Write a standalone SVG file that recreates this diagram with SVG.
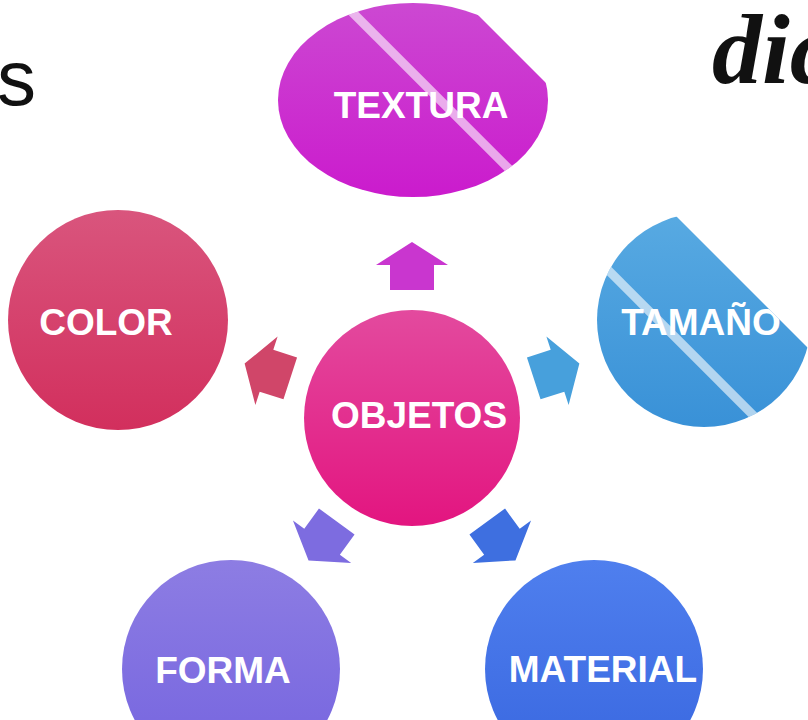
<svg xmlns="http://www.w3.org/2000/svg" width="808" height="720" viewBox="0 0 808 720">
<defs>
<linearGradient id="gObj" x1="0" y1="0" x2="0" y2="1"><stop offset="0" stop-color="#e34a9e"/><stop offset="1" stop-color="#e31580"/></linearGradient>
<linearGradient id="gTex" x1="0" y1="0" x2="0" y2="1"><stop offset="0" stop-color="#cc48d2"/><stop offset="1" stop-color="#cb1bcd"/></linearGradient>
<linearGradient id="gCol" x1="0" y1="0" x2="0" y2="1"><stop offset="0" stop-color="#d9557d"/><stop offset="1" stop-color="#d22f5d"/></linearGradient>
<linearGradient id="gTam" x1="0" y1="0" x2="0" y2="1"><stop offset="0" stop-color="#58aae2"/><stop offset="1" stop-color="#3991d7"/></linearGradient>
<linearGradient id="gFor" x1="0" y1="0" x2="0" y2="1"><stop offset="0" stop-color="#8d7de3"/><stop offset="1" stop-color="#7463df"/></linearGradient>
<linearGradient id="gMat" x1="0" y1="0" x2="0" y2="1"><stop offset="0" stop-color="#4f7fee"/><stop offset="1" stop-color="#3866df"/></linearGradient>
<clipPath id="cutTex"><polygon points="-100,-100 363,-100 1100,637 -100,637"/></clipPath>
<clipPath id="ellTex"><ellipse cx="413" cy="100" rx="135" ry="97"/></clipPath>
<clipPath id="cutTam"><polygon points="-100,-100 360,-100 1100,640 -100,640"/></clipPath>
<clipPath id="cirTam"><circle cx="704" cy="320" r="107"/></clipPath>
<path id="arr" d="M0,-24 L36,-1 L22,-1 L22,24 L-22,24 L-22,-1 L-36,-1 Z"/>
</defs>
<style>
.lbl{font-family:"Liberation Sans",Arial,sans-serif;font-weight:bold;font-size:37px;fill:#ffffff;text-anchor:middle}
.stripe{stroke:#ffffff;stroke-opacity:0.6;stroke-width:9}
</style>
<rect x="0" y="0" width="808" height="720" fill="#ffffff"/>
<text x="-3" y="105" font-family="Liberation Sans, Arial, sans-serif" font-size="78" fill="#111111">s</text>
<text x="712" y="83" font-family="Liberation Serif, Times New Roman, serif" font-style="italic" font-weight="bold" font-size="100" fill="#111111">dic</text>

<g id="connectors">
<use href="#arr" transform="translate(412,266)" fill="#c936cf"/>
<use href="#arr" transform="rotate(72 412 418) translate(412,266)" fill="#47a0dc"/>
<use href="#arr" transform="rotate(144 412 418) translate(412,266)" fill="#3e6fe0"/>
<use href="#arr" transform="rotate(216 412 418) translate(412,266)" fill="#7d6ce0"/>
<use href="#arr" transform="rotate(288 412 418) translate(412,266)" fill="#d04669"/>
</g>

<g id="textura">
<g clip-path="url(#cutTex)">
<ellipse cx="413" cy="100" rx="135" ry="97" fill="url(#gTex)"/>
<text class="lbl" x="421" y="118">TEXTURA</text>
<line class="stripe" x1="300" y1="-40" x2="600" y2="260" clip-path="url(#ellTex)"/>
</g>
</g>

<g id="tamano">
<g clip-path="url(#cutTam)">
<circle cx="704" cy="320" r="107" fill="url(#gTam)"/>
<text class="lbl" x="701" y="335">TAMAÑO</text>
<line class="stripe" x1="540" y1="202" x2="840" y2="502" clip-path="url(#cirTam)"/>
</g>
</g>

<g id="color">
<circle cx="118" cy="320" r="110" fill="url(#gCol)"/>
<text class="lbl" x="106" y="335">COLOR</text>
</g>

<g id="objetos">
<circle cx="412" cy="418" r="108" fill="url(#gObj)"/>
<text class="lbl" x="419" y="428">OBJETOS</text>
</g>

<g id="forma">
<circle cx="231" cy="669" r="109" fill="url(#gFor)"/>
<text class="lbl" x="223" y="683">FORMA</text>
</g>

<g id="material">
<circle cx="594" cy="669" r="109" fill="url(#gMat)"/>
<text class="lbl" x="603" y="682">MATERIAL</text>
</g>
</svg>
